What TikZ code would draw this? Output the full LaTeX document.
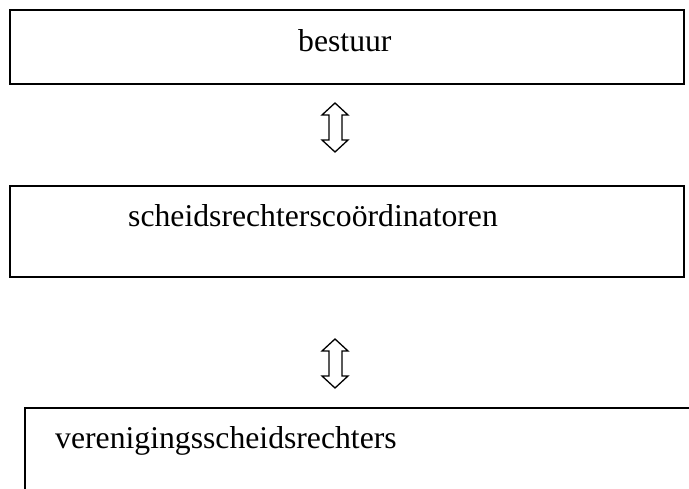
\documentclass[tikz,border=0pt]{standalone}
\usepackage{fontspec}
\setmainfont{Liberation Serif}
\begin{document}
\begin{tikzpicture}[x=1pt,y=-1pt,
  boxline/.style={draw=black,line width=2pt},
  lbl/.style={inner sep=0pt,anchor=base west,font=\fontsize{31.7}{38}\selectfont},
  dblarrow/.style={draw=black,line width=1.3pt,fill=white,line join=miter}]
\useasboundingbox (0,0) rectangle (689,489);
% boxes
\draw[boxline] (10,10) rectangle (684,84);
\draw[boxline] (10,186) rectangle (684,277);
\draw[boxline] (25,489) -- (25,408) -- (689,408);
% labels
\node[lbl] (b1) at (298,52) {bestuur};
\node[lbl] (b2) at (128,227) {scheidsrechterscoördinatoren};
\node[lbl] (b3) at (55,448) {verenigingsscheidsrechters};
% hollow double arrows
\foreach \t in {103,339}{
  \draw[dblarrow] (335,\t) -- ++(13,12) -- ++(-6,0) -- ++(0,25) -- ++(6,0)
     -- ++(-13,12) -- ++(-13,-12) -- ++(7,0) -- ++(0,-25) -- ++(-7,0) -- cycle;
}
\end{tikzpicture}
\end{document}
